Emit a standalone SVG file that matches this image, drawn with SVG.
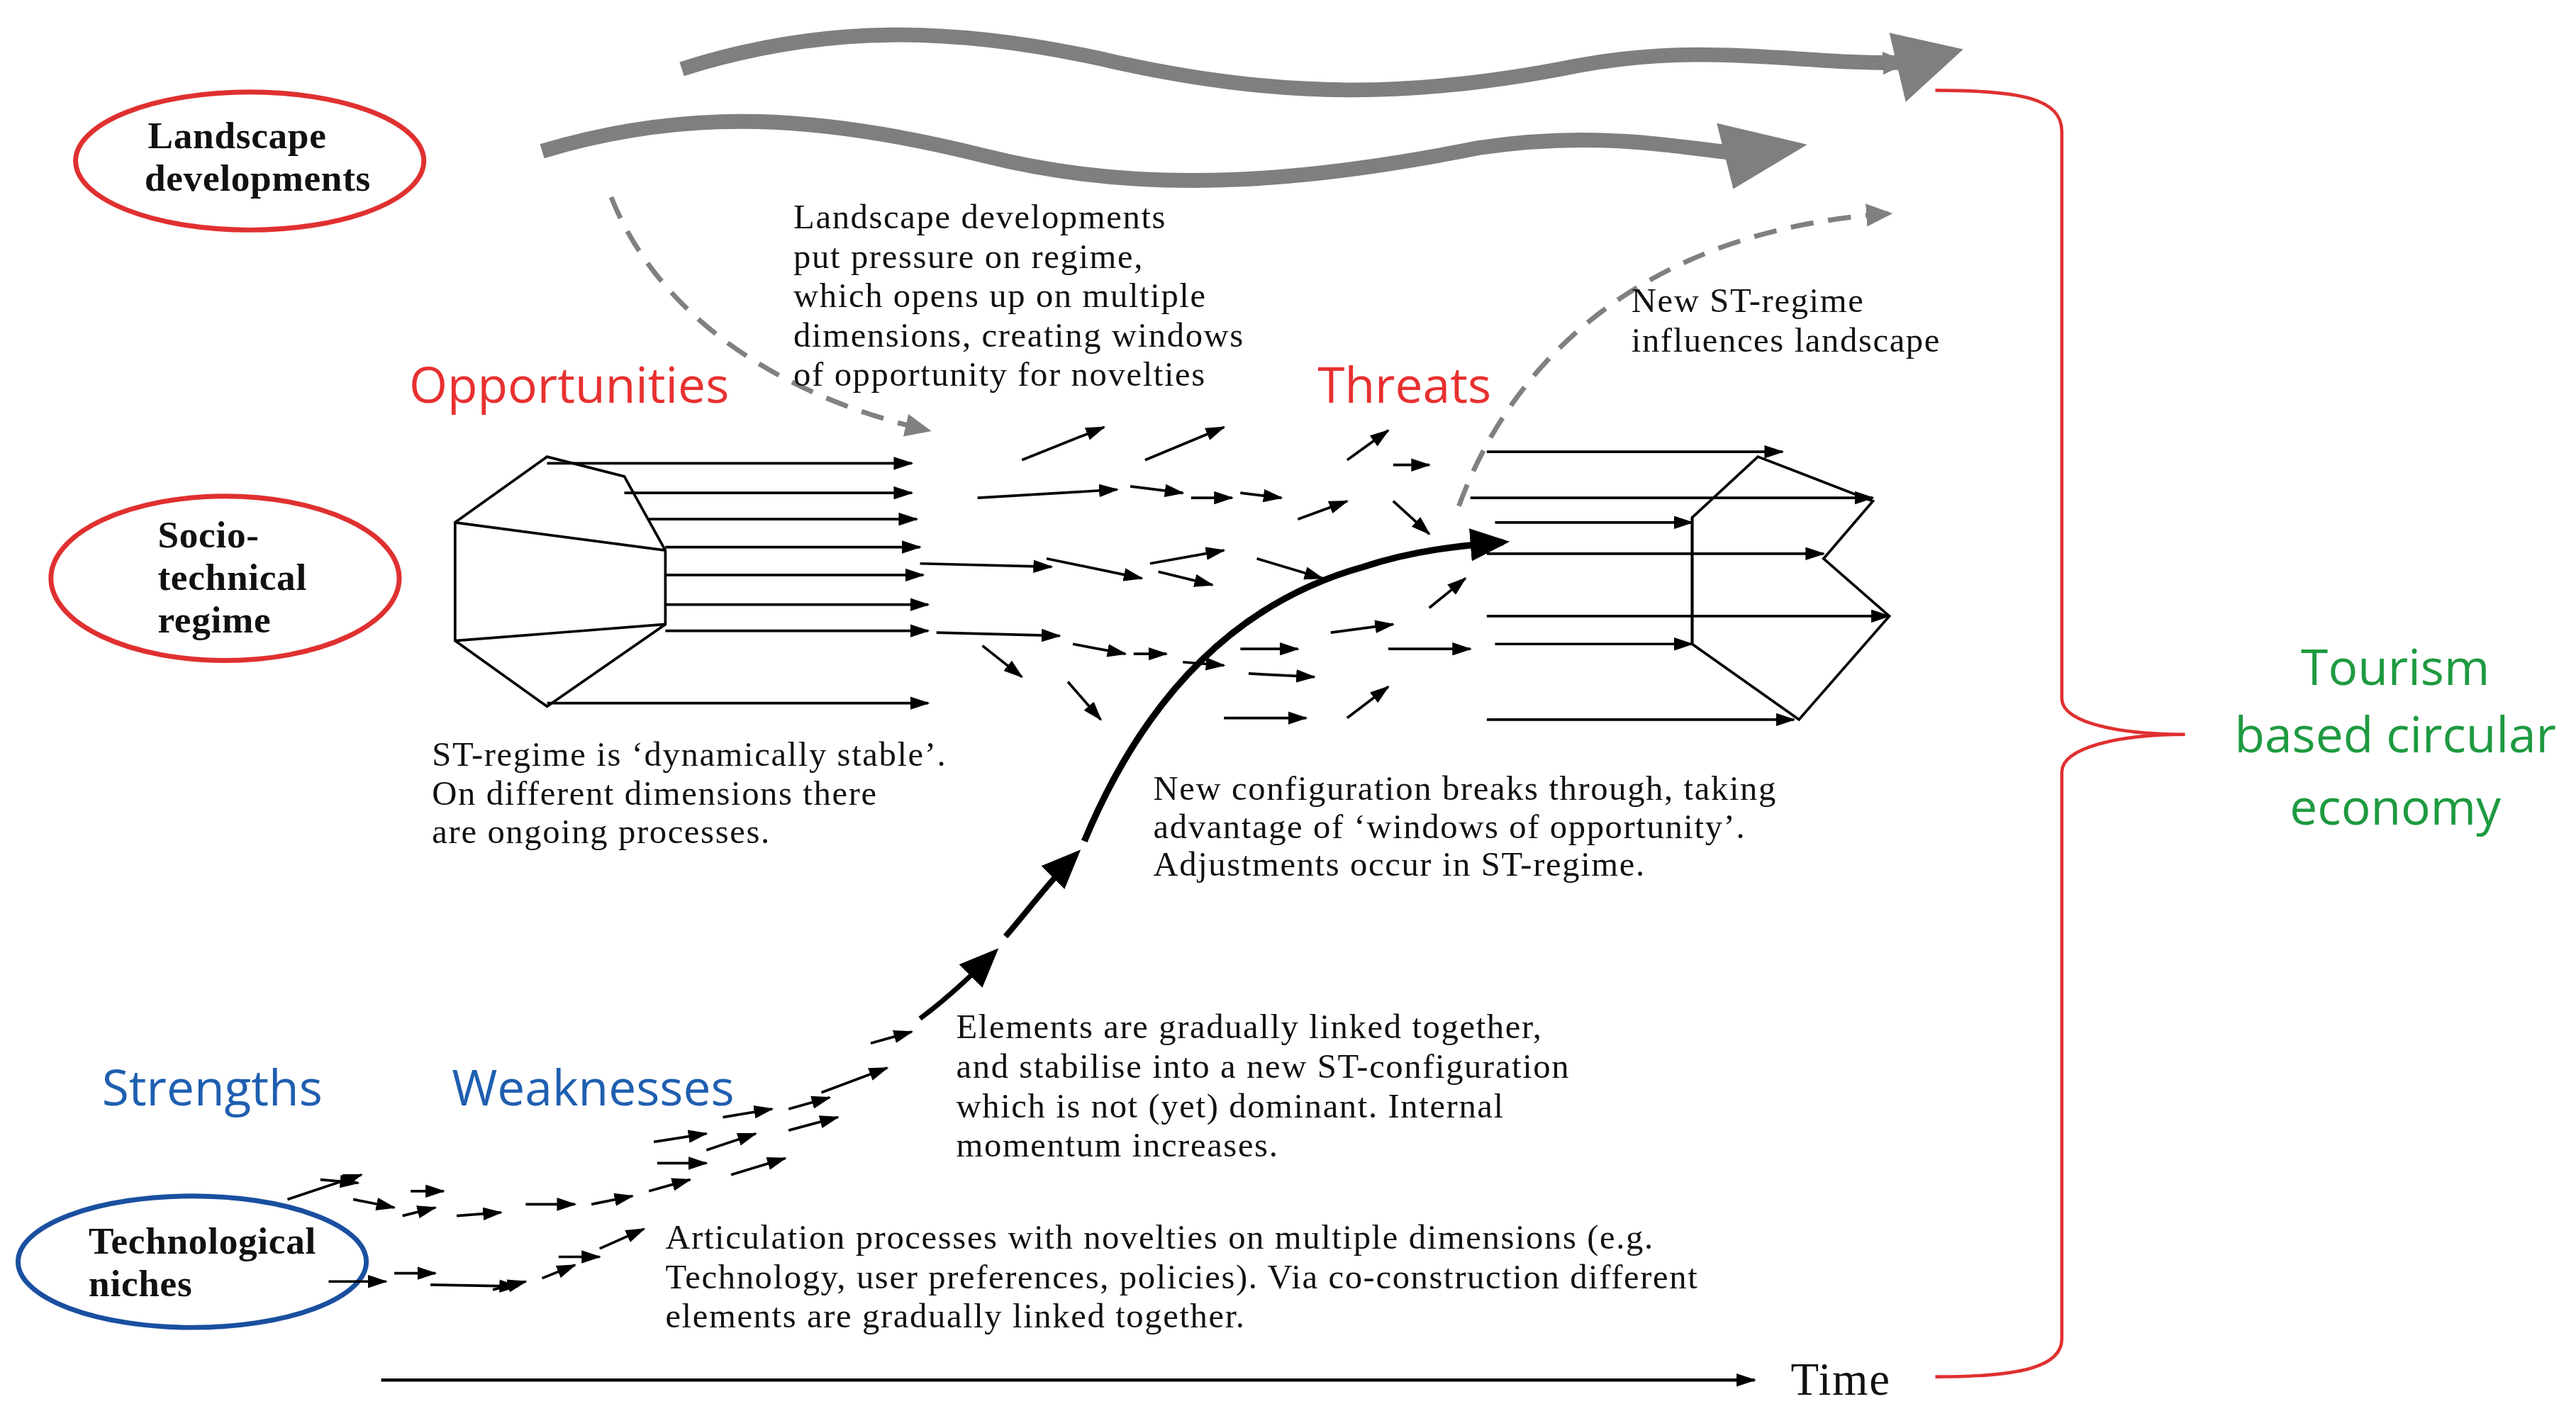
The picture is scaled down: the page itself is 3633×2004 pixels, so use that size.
<svg xmlns="http://www.w3.org/2000/svg" width="3633" height="2004" viewBox="0 0 3633 2004">
<style>
.ser{font-family:"Liberation Serif",serif;font-size:21px;fill:#111;letter-spacing:0.7px}
.b{font-weight:bold;font-size:23px;letter-spacing:0.3px}
.sans{font-family:"Open Sans","Liberation Sans",sans-serif;font-size:30px}
.a{stroke:#000;stroke-width:1.6;fill:none;marker-end:url(#ah)}
.pl{stroke:#000;stroke-width:1.6;fill:none}
</style>
<defs>
<marker id="ah" markerWidth="12" markerHeight="8" refX="11" refY="4" orient="auto" markerUnits="userSpaceOnUse"><path d="M0,0L12,4L0,8z" fill="#000"/></marker>
<marker id="gh" markerWidth="16" markerHeight="14" refX="14" refY="7" orient="auto" markerUnits="userSpaceOnUse"><path d="M0,0L16,7L0,14z" fill="#808080"/></marker>
<marker id="bh" markerWidth="24" markerHeight="20" refX="20" refY="10" orient="auto" markerUnits="userSpaceOnUse"><path d="M0,0L24,10L0,20z" fill="#000"/></marker>
</defs>
<rect width="3633" height="2004" fill="#fff"/>
<g transform="scale(2.317)">
<g id="landscape"><ellipse cx="152" cy="98" rx="106" ry="42" fill="none" stroke="#e03030" stroke-width="3"/><text class="ser b" x="90" y="90">Landscape</text><text class="ser b" x="88" y="116">developments</text></g>
<g id="regime"><ellipse cx="137" cy="352" rx="106" ry="50" fill="none" stroke="#e03030" stroke-width="3"/><text class="ser b" x="96" y="333">Socio-</text><text class="ser b" x="96" y="359">technical</text><text class="ser b" x="96" y="385">regime</text></g>
<g id="niches"><ellipse cx="117" cy="768" rx="106" ry="40" fill="none" stroke="#1a4fa0" stroke-width="3"/><text class="ser b" x="54" y="763">Technological</text><text class="ser b" x="54" y="789">niches</text></g>
<g id="waves" fill="none" stroke="#7f7f7f" stroke-width="9">
<path d="M415,42 C500,15 580,15 680,38 C780,60 860,60 960,40 C1040,25 1100,40 1160,38" marker-end="url(#gh)"/>
<path d="M330,92 C420,65 500,70 600,95 C700,120 800,110 900,90 C980,78 1030,92 1075,95" marker-end="url(#gh)"/>
</g>
<g id="bigheads" fill="#7f7f7f"><path d="M1150,20L1195,30L1160,62z"/><path d="M1045,75L1100,88L1055,115z"/></g>
<g id="dashed" fill="none" stroke="#808080" stroke-width="3" stroke-dasharray="14,9">
<path d="M372,120 C400,190 470,240 565,262" marker-end="url(#gh)"/>
<path d="M888,308 C920,220 1000,140 1150,130" marker-end="url(#gh)"/>
</g>
<g id="texts">
<text class="ser" x="483" y="139">Landscape  developments</text>
<text class="ser" x="483" y="163">put pressure on regime,</text>
<text class="ser" x="483" y="187">which opens up on multiple</text>
<text class="ser" x="483" y="211">dimensions, creating windows</text>
<text class="ser" x="483" y="235">of opportunity for novelties</text>
<text class="ser" x="993" y="190">New  ST-regime</text>
<text class="ser" x="993" y="214">influences landscape</text>
<text class="ser" x="263" y="466">ST-regime  is ‘dynamically stable’.</text>
<text class="ser" x="263" y="490">On different dimensions there</text>
<text class="ser" x="263" y="513">are ongoing processes.</text>
<text class="ser" x="702" y="487">New configuration breaks through, taking</text>
<text class="ser" x="702" y="510">advantage of ‘windows of opportunity’.</text>
<text class="ser" x="702" y="533">Adjustments occur in ST-regime.</text>
<text class="ser" x="582" y="632">Elements are gradually linked together,</text>
<text class="ser" x="582" y="656">and stabilise into  a new ST-configuration</text>
<text class="ser" x="582" y="680">which is not (yet) dominant. Internal</text>
<text class="ser" x="582" y="704">momentum  increases.</text>
<text class="ser" x="405" y="760">Articulation processes with novelties on multiple dimensions (e.g.</text>
<text class="ser" x="405" y="784">Technology, user preferences, policies). Via co-construction different</text>
<text class="ser" x="405" y="808">elements are gradually linked together.</text>
<text class="ser" x="1090" y="849" style="font-size:28px">Time</text>
<text class="sans" x="249" y="245" fill="#e83030">Opportunities</text>
<text class="sans" x="802" y="245" fill="#e83030">Threats</text>
<text class="sans" x="62" y="673" fill="#1f5fb0">Strengths</text>
<text class="sans" x="275" y="673" fill="#1f5fb0">Weaknesses</text>
<text class="sans" x="1458" y="417" fill="#1e9a40" text-anchor="middle">Tourism</text>
<text class="sans" x="1458" y="458" fill="#1e9a40" text-anchor="middle">based circular</text>
<text class="sans" x="1458" y="502" fill="#1e9a40" text-anchor="middle">economy</text>
</g>
<g id="leftregime">
<path class="pl" d="M333,278L380,290L405,335L405,380L333,430L277,390L277,318Z"/>
<path class="pl" d="M277,318L405,335M277,390L405,380"/>
</g>
<g id="rightregime">
<path class="pl" d="M1030,315L1070,278L1140,305L1110,340L1150,375L1095,438L1030,392Z"/>
<path class="pl" d="M1030,315L1030,392"/>
</g>
<g id="connectors">
<path class="a" d="M333,282H555"/><path class="a" d="M380,300H555"/><path class="a" d="M395,316H558"/><path class="a" d="M405,333H560"/><path class="a" d="M405,350H562"/><path class="a" d="M405,368H565"/><path class="a" d="M405,384H565"/><path class="a" d="M333,428H565"/>
<path class="a" d="M905,275H1085"/><path class="a" d="M895,303H1140"/><path class="a" d="M910,318H1030"/><path class="a" d="M905,337H1110"/><path class="a" d="M905,375H1150"/><path class="a" d="M910,392H1030"/><path class="a" d="M905,438H1092"/>
<path class="a" d="M622,280L672,260"/><path class="a" d="M697,280L745,260"/><path class="a" d="M595,303L680,298"/><path class="a" d="M688,296L720,300"/><path class="a" d="M725,303L750,303"/><path class="a" d="M755,300L780,303"/><path class="a" d="M820,280L845,262"/><path class="a" d="M848,283L870,283"/><path class="a" d="M790,316L820,305"/><path class="a" d="M848,305L870,325"/><path class="a" d="M560,343L640,345"/><path class="a" d="M637,340L695,352"/><path class="a" d="M700,343L745,335"/><path class="a" d="M705,348L738,356"/><path class="a" d="M765,340L805,352"/><path class="a" d="M570,385L645,387"/><path class="a" d="M598,393L622,412"/><path class="a" d="M653,392L685,398"/><path class="a" d="M690,398L710,398"/><path class="a" d="M720,403L745,405"/><path class="a" d="M755,395L790,395"/><path class="a" d="M760,410L800,412"/><path class="a" d="M810,385L848,380"/><path class="a" d="M845,395L895,395"/><path class="a" d="M870,370L892,352"/><path class="a" d="M650,415L670,438"/><path class="a" d="M745,437L795,437"/><path class="a" d="M820,437L845,418"/>
<path d="M560,620 C580,605 595,590 605,580" fill="none" stroke="#000" stroke-width="3" marker-end="url(#bh)"/>
<path d="M612,570 C625,555 640,535 655,520" fill="none" stroke="#000" stroke-width="3.5" marker-end="url(#bh)"/>
<path d="M660,512 C690,440 740,370 830,345 C860,335 890,332 915,330" fill="none" stroke="#000" stroke-width="4" marker-end="url(#bh)"/>
<path class="a" d="M175,730L220,715"/><path class="a" d="M195,718L218,720"/><path class="a" d="M215,730L240,735"/><path class="a" d="M250,725L270,725"/><path class="a" d="M245,740L265,735"/><path class="a" d="M278,740L305,738"/><path class="a" d="M320,733L350,733"/><path class="a" d="M360,733L385,728"/><path class="a" d="M395,725L420,718"/><path class="a" d="M400,708L430,708"/><path class="a" d="M398,695L430,690"/><path class="a" d="M440,680L470,675"/><path class="a" d="M430,700L460,690"/><path class="a" d="M445,715L478,705"/><path class="a" d="M480,688L510,680"/><path class="a" d="M480,675L505,668"/><path class="a" d="M500,665L540,650"/><path class="a" d="M530,635L555,628"/>
<path class="a" d="M200,780L235,780"/><path class="a" d="M240,775L265,775"/><path class="a" d="M262,782L315,783"/><path class="a" d="M300,785L320,780"/><path class="a" d="M330,778L350,770"/><path class="a" d="M340,765L365,765"/><path class="a" d="M365,760L392,748"/>
<path d="M232,840H1068" stroke="#000" stroke-width="2" marker-end="url(#ah)"/>
<path d="M1178,55C1230,55 1255,60 1255,80V425C1255,440 1290,447 1330,447C1290,447 1255,455 1255,470V815C1255,832 1230,838 1178,838" fill="none" stroke="#e03030" stroke-width="2"/>
</g>
</g>
</svg>
